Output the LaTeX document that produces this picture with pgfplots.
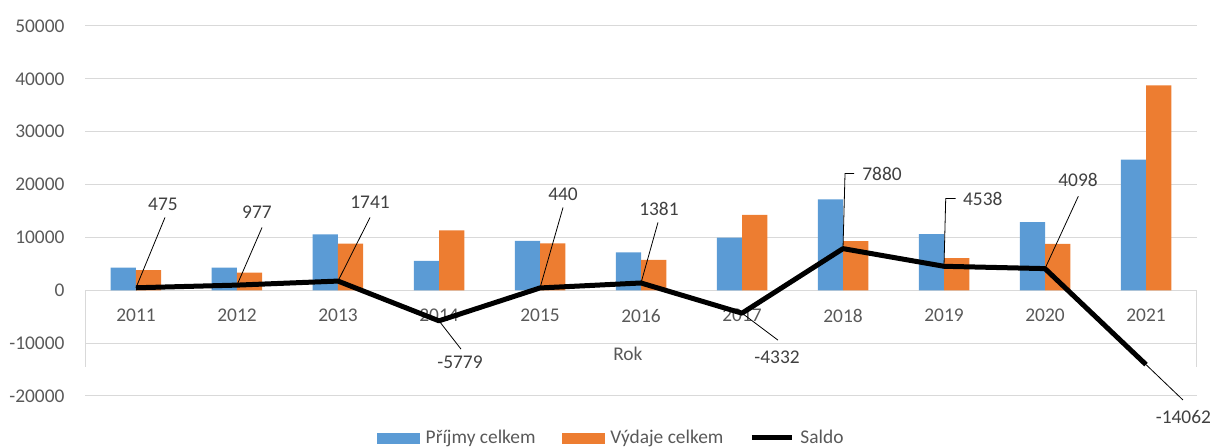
\documentclass[border=0pt]{standalone}
\usepackage{pgfplots}
\pgfplotsset{compat=1.18}
\usepackage{fontspec}
\setmainfont{Carlito}
\definecolor{prijmy}{HTML}{5B9BD5}
\definecolor{vydaje}{HTML}{ED7D31}
\definecolor{gridc}{HTML}{D9D9D9}
\definecolor{tickc}{HTML}{595959}
\definecolor{labc}{HTML}{404040}
\pgfplotsset{
  lineleg/.style={legend image code/.code={\draw[##1] (0pt,0pt) -- (20pt,0pt);}},
}
\begin{document}
\begin{tikzpicture}[font=\fontsize{9.7}{11}\selectfont]
\begin{axis}[
  at={(0,0)}, anchor=south west,
  scale only axis, width=555.5pt, height=185pt,
  xmin=-0.5, xmax=10.5, ymin=-20000, ymax=50000,
  ytick={-20000,-10000,...,50000},
  scaled y ticks=false,
  xtick={0,...,10},
  xticklabels={2011,2012,2013,2014,2015,2016,2017,2018,2019,2020,2021},
  ymajorgrids, grid style={gridc, line width=0.5pt},
  axis line style={draw=none},
  major tick length=0pt,
  tick label style={color=tickc},
  /pgf/number format/assume math mode=true,
  /pgf/number format/1000 sep={},
  yticklabel style={xshift=-7pt},
  xticklabel style={yshift=47pt},
  clip=false,
  legend style={at={(0.475,-0.1135)}, anchor=center, draw=none, fill=none,
    legend columns=3, text=tickc,
    nodes={inner xsep=3pt},
    /tikz/every even column/.append style={column sep=10pt}},
]
\addlegendimage{legend image code/.code={\fill[prijmy] (0pt,-2.5pt) rectangle (21pt,2.5pt);}}
\addlegendentry{Příjmy celkem}
\addlegendimage{legend image code/.code={\fill[vydaje] (0pt,-2.5pt) rectangle (21pt,2.5pt);}}
\addlegendentry{Výdaje celkem}
\addplot[ybar, bar width=0.25, bar shift=-0.125, fill=prijmy, draw=none, forget plot]
  coordinates {(0,4300) (1,4300) (2,10570) (3,5550) (4,9330) (5,7150) (6,9950) (7,17200) (8,10600) (9,12900) (10,24700)};
\addplot[ybar, bar width=0.25, bar shift=0.125, fill=vydaje, draw=none, forget plot]
  coordinates {(0,3825) (1,3323) (2,8829) (3,11329) (4,8890) (5,5769) (6,14282) (7,9320) (8,6062) (9,8802) (10,38762)};
\addplot[black, line width=2.5pt, line join=round, lineleg]
  coordinates {(0,475) (1,977) (2,1741) (3,-5779) (4,440) (5,1381) (6,-4332) (7,7880) (8,4538) (9,4098) (10,-14062)};
\addlegendentry{Saldo}
% pomocne svisle cary u osy x
\draw[gridc, line width=0.5pt] (axis cs:-0.5,0) -- (axis cs:-0.5,-14528);
\draw[gridc, line width=0.5pt] (axis cs:10.5,0) -- (axis cs:10.5,-14528);
% popisky hodnot salda
\begin{scope}[line width=0.4pt, black]
\draw (axis cs:0,475) -- (axis cs:0.287,13774);
\draw (axis cs:1,977) -- (axis cs:1.248,11887);
\draw (axis cs:2,1741) -- (axis cs:2.317,13774);
\draw (axis cs:3,-5779) -- (axis cs:3.218,-11132);
\draw (axis cs:4,440) -- (axis cs:4.228,15660);
\draw (axis cs:5,1381) -- (axis cs:5.168,12830);
\draw (axis cs:6,-4332) -- (axis cs:6.356,-9434);
\draw (axis cs:7,7880) -- (axis cs:7.02,22075) -- (axis cs:7.109,22075);
\draw (axis cs:8,4538) -- (axis cs:8.017,17358) -- (axis cs:8.116,17358);
\draw (axis cs:9,4098) -- (axis cs:9.33,17792);
\draw (axis cs:10,-14062) -- (axis cs:10.366,-20755);
\end{scope}
\begin{scope}[text=labc]
\node at (axis cs:0.267,16226) {475};
\node at (axis cs:1.198,14717) {977};
\node at (axis cs:2.317,16604) {1741};
\node at (axis cs:3.208,-13585) {-5779};
\node at (axis cs:4.228,18113) {440};
\node at (axis cs:5.178,15472) {1381};
\node at (axis cs:6.347,-12642) {-4332};
\node[anchor=west, inner sep=0pt] at (axis cs:7.188,22075) {7880};
\node[anchor=west, inner sep=0pt] at (axis cs:8.185,17358) {4538};
\node at (axis cs:9.327,20943) {4098};
\node at (axis cs:10.37,-23900) {-14062};
\end{scope}
\node[text=tickc] at (axis cs:4.87,-12100) {Rok};
\end{axis}
\pgfresetboundingbox
\useasboundingbox (-42.75pt,-26pt) rectangle (563.25pt,198pt);
\end{tikzpicture}
\end{document}
